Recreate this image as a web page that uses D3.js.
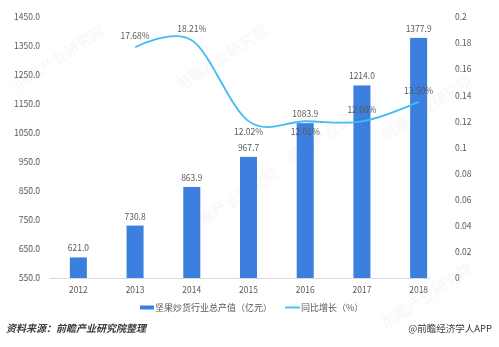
<!DOCTYPE html>
<html>
<head>
<meta charset="utf-8">
<script src="https://cdn.jsdelivr.net/npm/d3@7/dist/d3.min.js"></script>
<style>
  html, body { margin: 0; padding: 0; background: #fff; }
  svg { display: block; font-family: "Noto Sans CJK SC", "Noto Sans", sans-serif; }
</style>
</head>
<body>
<svg id="chart" width="499" height="347"></svg>
<script>
// 坚果炒货行业总产值及同比增长
const years = ["2012", "2013", "2014", "2015", "2016", "2017", "2018"];
const output = [621.0, 730.8, 863.9, 967.7, 1083.9, 1214.0, 1377.9];      // 亿元
const growth = [null, 0.1768, 0.1821, 0.1202, 0.1201, 0.1200, 0.1350];    // 同比
const growthLabels = [null, "17.68%", "18.21%", "12.02%", "12.01%", "12.00%", "13.50%"];
const growthLabelSide = [null, "above", "above", "below", "below", "above", "above"];
const leftTicks = [550, 650, 750, 850, 950, 1050, 1150, 1250, 1350, 1450];
const rightTicks = [0, 0.02, 0.04, 0.06, 0.08, 0.1, 0.12, 0.14, 0.16, 0.18, 0.2];
const legendNames = ["坚果炒货行业总产值（亿元）", "同比增长（%）"];

const svg = d3.select("#chart");
const plot = { left: 50, right: 447, top: 17, bottom: 278 };

const barColor = "#3c7fde";
const lineColor = "#40bdf2";
const textColor = "#595959";

// faint background watermarks
const marks = [
  { x: 62, y: 62 },
  { x: 225, y: 62 },
  { x: 235, y: 205 },
  { x: 335, y: 135 },
  { x: 430, y: 112 },
  { x: 430, y: 300 }
];
const wm = svg.append("g").attr("fill", "#ececec").attr("opacity", 0.5);
marks.forEach(m => {
  wm.append("text")
    .attr("transform", `translate(${m.x},${m.y}) rotate(-33)`)
    .attr("text-anchor", "middle")
    .attr("font-size", 15)
    .text("前瞻产业研究院");
});

const x = d3.scaleBand().domain(years).range([plot.left, plot.right]).paddingInner(0.7).paddingOuter(0.35);
const yL = d3.scaleLinear().domain([550, 1450]).range([plot.bottom, plot.top]);
const yR = d3.scaleLinear().domain([0, 0.2]).range([plot.bottom, plot.top]);
const cx = d => x(d) + x.bandwidth() / 2;

// left axis labels
const axL = svg.append("g").attr("transform", `translate(${40},0)`)
  .call(d3.axisLeft(yL).tickValues(leftTicks).tickSize(0).tickPadding(0).tickFormat(d3.format(".1f")));
axL.select(".domain").remove();
axL.selectAll("text").attr("fill", textColor).attr("font-size", 8.5).attr("font-family", "'Noto Sans CJK SC', sans-serif");

// right axis labels
const axR = svg.append("g").attr("transform", `translate(${455},0)`)
  .call(d3.axisRight(yR).tickValues(rightTicks).tickSize(0).tickPadding(0).tickFormat(d => String(+d.toFixed(2))));
axR.select(".domain").remove();
axR.selectAll("text").attr("fill", textColor).attr("font-size", 8.5).attr("font-family", "'Noto Sans CJK SC', sans-serif");

// bars
svg.append("g").selectAll("rect").data(years).join("rect")
  .attr("x", d => x(d))
  .attr("width", x.bandwidth())
  .attr("y", (d, i) => yL(output[i]))
  .attr("height", (d, i) => plot.bottom - yL(output[i]))
  .attr("fill", barColor);

// baseline
svg.append("line")
  .attr("x1", plot.left).attr("x2", 430)
  .attr("y1", plot.bottom + 0.5).attr("y2", plot.bottom + 0.5)
  .attr("stroke", "#d9d9d9").attr("stroke-width", 1);

// x labels
const axB = svg.append("g").attr("transform", `translate(0,${plot.bottom})`)
  .call(d3.axisBottom(x).tickSize(0).tickPadding(9));
axB.select(".domain").remove();
axB.selectAll("text").attr("fill", textColor).attr("font-size", 8.5).attr("font-family", "'Noto Sans CJK SC', sans-serif");

// bar value labels
svg.append("g").selectAll("text").data(years).join("text")
  .attr("x", d => cx(d))
  .attr("y", (d, i) => yL(output[i]) - 6)
  .attr("text-anchor", "middle")
  .attr("font-size", 8.5)
  .attr("fill", textColor)
  .text((d, i) => output[i].toFixed(1));

// growth line
const pts = years.map((d, i) => ({ year: d, v: growth[i], label: growthLabels[i], side: growthLabelSide[i] }))
  .filter(p => p.v !== null);
const line = d3.line().x(p => cx(p.year)).y(p => yR(p.v)).curve(d3.curveCatmullRom.alpha(0));
svg.append("path").datum(pts)
  .attr("d", line)
  .attr("fill", "none")
  .attr("stroke", lineColor)
  .attr("stroke-width", 1.8);

svg.append("g").selectAll("text").data(pts).join("text")
  .attr("x", p => cx(p.year))
  .attr("y", p => p.side === "above" ? yR(p.v) - 8 : yR(p.v) + 14)
  .attr("text-anchor", "middle")
  .attr("font-size", 8.5)
  .attr("fill", textColor)
  .text(p => p.label);

// legend
const lg = svg.append("g");
lg.append("rect").attr("x", 140).attr("y", 305.5).attr("width", 14).attr("height", 4).attr("fill", barColor);
lg.append("text").attr("x", 155).attr("y", 311).attr("font-size", 9).attr("fill", textColor).text(legendNames[0]);
lg.append("line").attr("x1", 285).attr("x2", 300).attr("y1", 307.5).attr("y2", 307.5)
  .attr("stroke", lineColor).attr("stroke-width", 1.8);
lg.append("text").attr("x", 301).attr("y", 311).attr("font-size", 9).attr("fill", textColor).text(legendNames[1]);

// footer
svg.append("text").attr("x", 6).attr("y", 332)
  .attr("font-size", 10).attr("font-weight", "bold").attr("font-style", "italic")
  .attr("fill", "#3a3a3a").text("资料来源：前瞻产业研究院整理");
svg.append("text").attr("x", 492).attr("y", 332).attr("text-anchor", "end")
  .attr("font-size", 9.5).attr("fill", "#3a3a3a").text("@前瞻经济学人APP");
</script>
</body>
</html>
